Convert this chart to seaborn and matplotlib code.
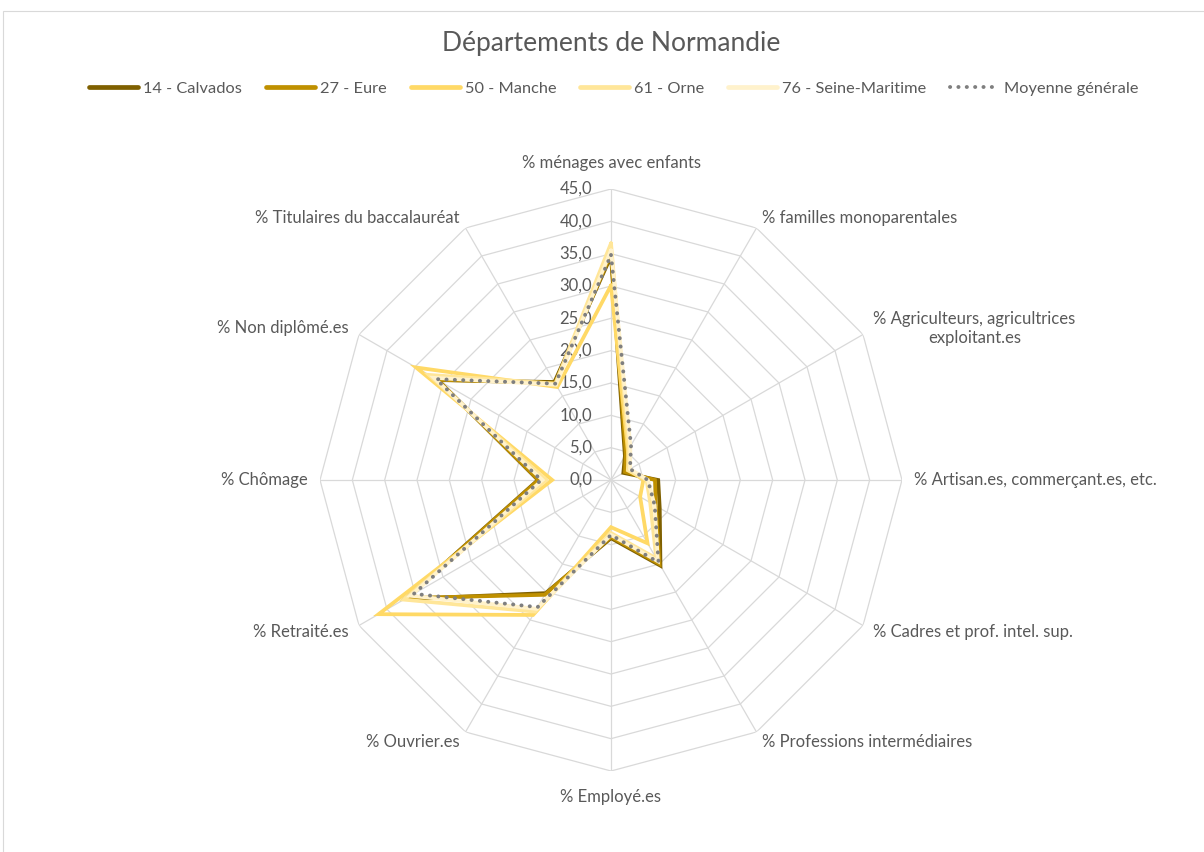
import numpy as np
import pandas as pd
import matplotlib
matplotlib.use("Agg")
import matplotlib.pyplot as plt
from matplotlib.lines import Line2D
from matplotlib.patches import Rectangle
import seaborn as sns

# Indicators (clockwise from the top)
categories = [
    "% ménages avec enfants",
    "% familles monoparentales",
    "% Agriculteurs, agricultrices\nexploitant.es",
    "% Artisan.es, commerçant.es, etc.",
    "% Cadres et prof. intel. sup.",
    "% Professions intermédiaires",
    "% Employé.es",
    "% Ouvrier.es",
    "% Retraité.es",
    "% Chômage",
    "% Non diplômé.es",
    "% Titulaires du baccalauréat",
]

calvados = [34.6, 4.3, 2.2, 7.3, 8.7, 15.3, 9.0, 20.2, 36.8, 11.3, 30.9, 17.5]
eure = [35.0, 4.6, 2.5, 6.8, 8.0, 15.0, 8.8, 20.5, 36.5, 11.2, 31.0, 17.3]
manche = [30.1, 5.2, 3.2, 5.0, 5.2, 11.3, 7.3, 24.1, 41.5, 9.1, 34.8, 16.6]
orne = [36.6, 5.5, 3.0, 5.5, 7.0, 14.0, 8.2, 23.5, 37.0, 10.0, 32.5, 17.2]
seine_maritime = [35.5, 6.0, 3.4, 5.7, 7.8, 14.5, 8.5, 23.0, 35.8, 10.6, 31.6, 17.0]
moyenne = [34.8, 6.2, 3.4, 5.7, 7.8, 14.7, 8.5, 22.7, 35.2, 10.8, 31.2, 17.2]

series_names = ["14 - Calvados", "27 - Eure", "50 - Manche", "61 - Orne",
                "76 - Seine-Maritime", "Moyenne générale"]
series_values = [calvados, eure, manche, orne, seine_maritime, moyenne]
series_colors = ["#7F6000", "#BF9000", "#FFD966", "#FFE699", "#FFF2CC", "#7F7F7F"]

radial_ticks = [0, 5, 10, 15, 20, 25, 30, 35, 40, 45]
title = "Départements de Normandie"

sns.set_theme(style="white")
plt.rcParams["font.family"] = ["Lato", "DejaVu Sans"]
TEXT = "#595959"
GRID = "#D9D9D9"
DOTS = (0, (0.05, 2.1))

fig = plt.figure(figsize=(12.04, 8.52), dpi=100)
fig.patch.set_facecolor("white")

# polar area: centre (611, 480) px, outer ring radius 291 px
cx, cy, R = 611, 480, 291
W, H = 1204, 852
ax = fig.add_axes([(cx - R) / W, (H - cy - R) / H, 2 * R / W, 2 * R / H],
                  projection="polar")
ax.set_theta_offset(np.pi / 2)
ax.set_theta_direction(-1)
rmax = radial_ticks[-1]
ax.set_ylim(0, rmax)
ax.set_xticks([])
ax.set_yticks([])
ax.grid(False)
ax.spines["polar"].set_visible(False)
ax.set_facecolor("none")

n = len(categories)
angles = np.arange(n) * 2 * np.pi / n
closed = np.append(angles, 2 * np.pi)

# polygonal grid and spokes
for v in radial_ticks[1:]:
    ax.plot(closed, [v] * (n + 1), color=GRID, lw=0.9, zorder=1)
for a in angles:
    ax.plot([a, a], [0, rmax], color=GRID, lw=0.9, zorder=1)

# radial value labels along the top spoke
for v in radial_ticks:
    ax.annotate(f"{v:.1f}".replace(".", ","), xy=(0, v), xytext=(-13.5, 0),
                textcoords="offset points", ha="right", va="center",
                fontsize=12, color=TEXT, zorder=2)

# data series
for name, vals, col in zip(series_names, series_values, series_colors):
    df = pd.DataFrame({"theta": closed, "value": list(vals) + [vals[0]]})
    kw = dict(color=col, lw=2.7, solid_joinstyle="miter")
    if name == "Moyenne générale":
        kw = dict(color=col, lw=2.8, linestyle=DOTS, dash_capstyle="round")
    sns.lineplot(data=df, x="theta", y="value", ax=ax, sort=False,
                 estimator=None, legend=False, zorder=3, **kw)
ax.set_xlabel("")
ax.set_ylabel("")

# category labels around the chart
lab_r = rmax * 303 / R
for a, lab in zip(angles, categories):
    deg = np.degrees(a) % 360
    if np.isclose(deg, 0) or np.isclose(deg, 180):
        ax.text(a, rmax * 317 / R, lab, ha="center", va="center",
                fontsize=12, color=TEXT)
    elif deg < 180:
        ax.text(a, lab_r, lab, ha="left", va="center", multialignment="center",
                fontsize=12, color=TEXT, linespacing=1.3)
    else:
        ax.text(a, lab_r, lab, ha="right", va="center", multialignment="center",
                fontsize=12, color=TEXT, linespacing=1.3)

# title
fig.text(0.5075, 1 - 44 / H, title, ha="center", va="center",
         fontsize=19, color=TEXT)

# legend
handles = []
for name, col in zip(series_names, series_colors):
    if name == "Moyenne générale":
        handles.append(Line2D([], [], color=col, lw=2.8, linestyle=DOTS,
                              dash_capstyle="round"))
    else:
        handles.append(Line2D([], [], color=col, lw=3.4))
leg = fig.legend(handles, series_names, loc="center",
                 bbox_to_anchor=(614 / W, 1 - 89 / H), ncol=6, frameon=False,
                 handlelength=3.0, handletextpad=0.3, columnspacing=1.45,
                 fontsize=11.8)
for t in leg.get_texts():
    t.set_color(TEXT)

# chart area border
fig.add_artist(Rectangle((3 / W, -0.02), 1.2, 1 - 11 / H + 0.02,
                         transform=fig.transFigure, fill=False,
                         ec=GRID, lw=0.8))

fig.savefig("out.png", dpi=100, facecolor="white")
